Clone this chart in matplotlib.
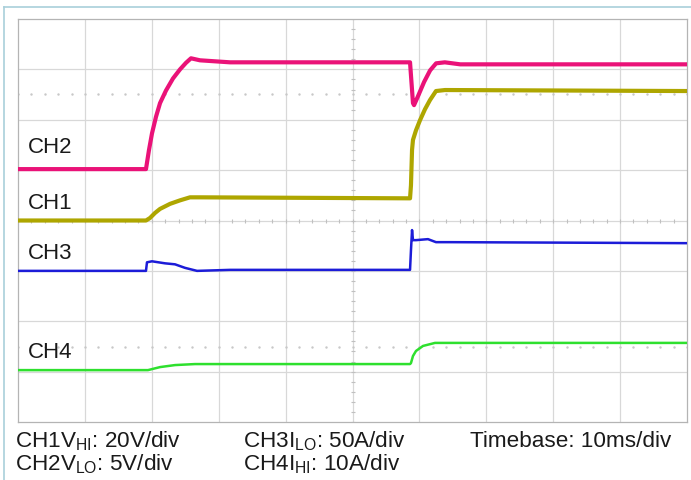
import numpy as np
import matplotlib
matplotlib.use("Agg")
import matplotlib.pyplot as plt
from matplotlib.lines import Line2D

plt.rcParams['font.family'] = ['Liberation Sans', 'DejaVu Sans']

# time in ms (10 ms/div), level in divisions (0..8 from bottom)
ch2_t = [0, 19.13, 19.58, 20.03, 20.63, 21.23, 22.12, 23.17, 24.22, 25.11, 25.86, 27.2,
         29.45, 31.69, 58.6, 58.74, 58.9, 59.04, 59.2, 59.8, 60.7, 61.6, 62.5, 63.8, 66.1, 100]
ch2_v = [5.02, 5.02, 5.40, 5.73, 6.06, 6.33, 6.58, 6.82, 7.00, 7.13, 7.22, 7.18,
         7.16, 7.14, 7.14, 6.88, 6.59, 6.33, 6.29, 6.47, 6.75, 6.98, 7.12, 7.14, 7.10, 7.10]

ch1_t = [0, 19.13, 19.73, 20.48, 21.23, 22.72, 24.22, 25.71, 27.2, 58.6, 58.74, 58.9,
         59.04, 59.49, 60.09, 60.84, 61.58, 62.48, 63.83, 100]
ch1_v = [4.0, 4.0, 4.05, 4.15, 4.23, 4.33, 4.40, 4.46, 4.46, 4.44, 4.70, 5.40,
         5.60, 5.79, 5.99, 6.21, 6.39, 6.57, 6.59, 6.57]

ch3_t = [0, 19.13, 19.28, 20.03, 21.97, 23.47, 24.96, 26.76, 31.69, 58.6, 58.74, 58.9,
         59.04, 59.49, 61.28, 62.48, 64.57, 100]
ch3_v = [3.0, 3.0, 3.17, 3.19, 3.15, 3.13, 3.06, 3.0, 3.02, 3.02, 3.41, 3.81,
         3.61, 3.61, 3.63, 3.57, 3.57, 3.55]

ch4_t = [0, 19.43, 21.23, 23.47, 26.46, 58.6, 58.74, 59.04, 59.49, 60.54, 62.33, 100]
ch4_v = [1.03, 1.03, 1.09, 1.13, 1.15, 1.15, 1.17, 1.31, 1.41, 1.51, 1.57, 1.57]

labels = ["CH2", "CH1", "CH3", "CH4"]
label_y = [5.44, 4.33, 3.35, 1.37]
ref_levels = [6.51, 1.49]

fig = plt.figure(figsize=(6.91, 4.8), dpi=100)
ax = fig.add_axes([18 / 691, 1 - 422 / 480, 669 / 691, 403 / 480])
ax.set_xlim(0, 100)
ax.set_ylim(0, 8)

# graticule
for x in range(10, 100, 10):
    ax.axvline(x, color='#d8d8d8', lw=0.9, zorder=1)
for y in range(1, 8):
    ax.axhline(y, color='#d8d8d8', lw=0.9, zorder=1)
minor_x = np.arange(0, 100.01, 2)
minor_y = np.arange(0, 8.01, 0.2)
ax.plot(minor_x, [4] * len(minor_x), ls='none', marker='|', ms=3.5, mew=0.8, color='#c0c0c0', zorder=1)
ax.plot([50] * len(minor_y), minor_y, ls='none', marker='_', ms=3.5, mew=0.8, color='#c0c0c0', zorder=1)
for lvl in ref_levels:
    ax.plot(minor_x, [lvl] * len(minor_x), ls='none', marker='.', ms=1.5, color='#c8c8c8', zorder=1)

ax.plot(ch2_t, ch2_v, color='#ea1278', lw=3.0, solid_joinstyle='round', zorder=3)
ax.plot(ch1_t, ch1_v, color='#aea600', lw=3.0, solid_joinstyle='round', zorder=3)
ax.plot(ch3_t, ch3_v, color='#1c1cd8', lw=1.8, zorder=3)
ax.plot(ch4_t, ch4_v, color='#2ee02e', lw=1.8, zorder=3)

for name, y in zip(labels, label_y):
    ax.text(1.5, y, name, fontsize=16, va='center', ha='left', color='#1a1a1a', zorder=4)

ax.set_xticks([])
ax.set_yticks([])
for s in ax.spines.values():
    s.set_color('#b4b4b4')
    s.set_linewidth(0.9)

# outer frame (top and left)
fig.add_artist(Line2D([4 / 691, 1], [1 - 7 / 480, 1 - 7 / 480], color='#a9cfda', lw=1.2))
fig.add_artist(Line2D([4 / 691, 4 / 691], [0, 1 - 7 / 480], color='#a9cfda', lw=1.2))

fs = 16.2
fig.text(15 / 691, 1 - 447 / 480, r"CH1V$_\mathregular{HI}$: 20V/div", fontsize=fs, va='baseline', color='#1a1a1a')
fig.text(15 / 691, 1 - 470 / 480, r"CH2V$_\mathregular{LO}$: 5V/div", fontsize=fs, va='baseline', color='#1a1a1a')
fig.text(243 / 691, 1 - 447 / 480, r"CH3I$_\mathregular{LO}$: 50A/div", fontsize=fs, va='baseline', color='#1a1a1a')
fig.text(243 / 691, 1 - 470 / 480, r"CH4I$_\mathregular{HI}$: 10A/div", fontsize=fs, va='baseline', color='#1a1a1a')
fig.text(470 / 691, 1 - 447 / 480, "Timebase: 10ms/div", fontsize=fs, va='baseline', color='#1a1a1a')

fig.savefig("out.png", dpi=100)
